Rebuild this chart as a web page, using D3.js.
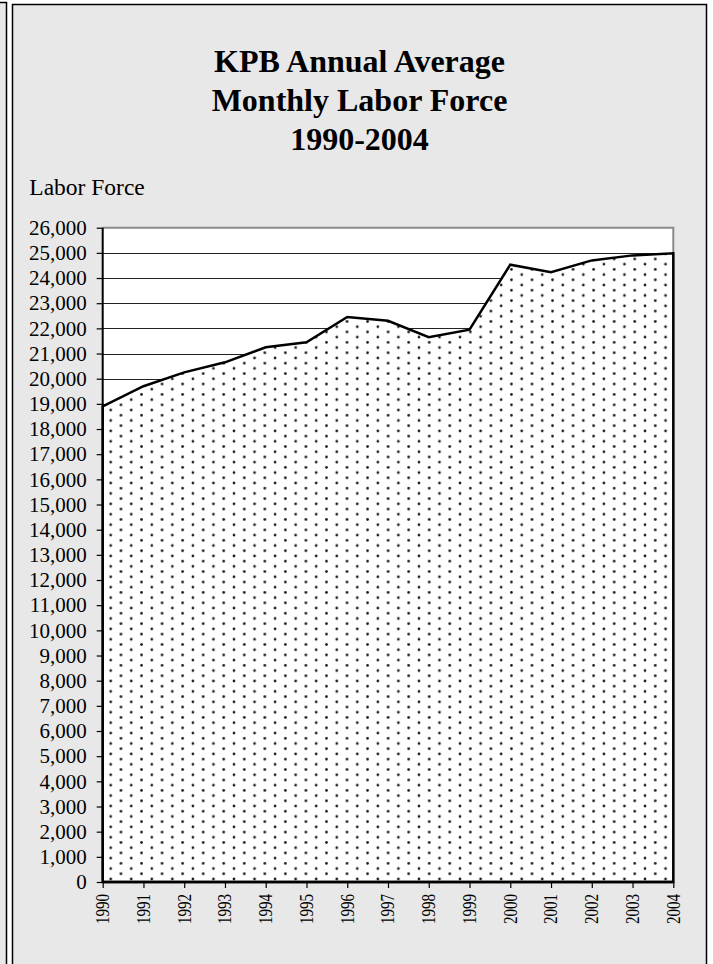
<!DOCTYPE html>
<html>
<head>
<meta charset="utf-8">
<script src="https://cdn.jsdelivr.net/npm/d3@7"></script>
<style>
  html, body { margin: 0; padding: 0; background: #ffffff; }
  svg { display: block; }
</style>
</head>
<body>
<svg id="chart" width="713" height="964"></svg>
<script>
const years = [1990,1991,1992,1993,1994,1995,1996,1997,1998,1999,2000,2001,2002,2003,2004];
const laborForce = [18900,19700,20250,20650,21250,21450,22450,22300,21650,21950,24530,24230,24700,24900,24980];
const yTicks = d3.range(0, 26001, 1000);
const titleLines = ["KPB Annual Average", "Monthly Labor Force", "1990-2004"];
const yLabel = "Labor Force";

const svg = d3.select("#chart");
const serif = "Liberation Serif, Times New Roman, serif";

// side panel (left, mostly clipped)
svg.append("rect").attr("x", -20).attr("y", 2.5).attr("width", 26.5).attr("height", 1000)
  .attr("fill", "#e8e8e8").attr("stroke", "#000").attr("stroke-width", 1.5);
// main panel
svg.append("rect").attr("x", 12.5).attr("y", 4.5).attr("width", 694).attr("height", 1000)
  .attr("fill", "#e8e8e8").attr("stroke", "#000").attr("stroke-width", 1.5);

const L = 102.7, R = 673.3, T = 227.7, B = 882;
const x = d3.scaleLinear().domain([years[0], years[years.length-1]]).range([L, R]);
const y = d3.scaleLinear().domain([0, 26000]).range([B, T]);

// dot pattern
const defs = svg.append("defs");
const pw = 20.55, ph = 10.42;
const pat = defs.append("pattern").attr("id", "dots").attr("patternUnits", "userSpaceOnUse")
  .attr("x", 110.7).attr("y", 879).attr("width", pw).attr("height", ph);
pat.append("rect").attr("width", pw).attr("height", ph).attr("fill", "#fff");
[[0,0],[pw,0],[0,ph],[pw,ph],[pw/2,ph/2]].forEach(([cx, cy]) => {
  pat.append("circle").attr("cx", cx).attr("cy", cy).attr("r", 1.35).attr("fill", "#1a1a1a");
});

// plot area background
svg.append("rect").attr("x", L).attr("y", T).attr("width", R - L).attr("height", B - T).attr("fill", "#fff");

// gridlines
svg.append("g").selectAll("line").data(yTicks.filter(d => d > 0 && d < 26000)).join("line")
  .attr("x1", L).attr("x2", R).attr("y1", d => Math.round(y(d)) + 0.5).attr("y2", d => Math.round(y(d)) + 0.5)
  .attr("stroke", "#222").attr("stroke-width", 1);

// plot border (top/right gray)
svg.append("path").attr("d", `M${L},${T}H${R}V${B}`).attr("fill", "none")
  .attr("stroke", "#8a8a8a").attr("stroke-width", 2);

// area
const data = years.map((yr, i) => ({ yr, v: laborForce[i] }));
const area = d3.area().x(d => x(d.yr)).y0(y(0)).y1(d => y(d.v));
svg.append("path").datum(data).attr("d", area).attr("fill", "url(#dots)")
  .attr("stroke", "#000").attr("stroke-width", 2.5).attr("stroke-linejoin", "miter");

// y axis
const yAxis = svg.append("g").attr("transform", `translate(${L},0)`)
  .call(d3.axisLeft(y).tickValues(yTicks).tickFormat(d3.format(",")).tickSize(6).tickPadding(10));
yAxis.attr("font-family", serif).attr("font-size", 21);
yAxis.select(".domain").attr("stroke", "#000").attr("stroke-width", 2).attr("d", `M0,${T}V${B}`);
yAxis.selectAll(".tick line").attr("stroke", "#000").attr("stroke-width", 1.2);
yAxis.selectAll("text").style("font-family", serif).style("font-size", "21px").attr("fill", "#000");

// x axis
const xAxis = svg.append("g").attr("transform", `translate(0,${B})`)
  .call(d3.axisBottom(x).tickValues(years).tickFormat(d3.format("d")).tickSize(6));
xAxis.attr("font-family", serif).attr("font-size", 18);
xAxis.select(".domain").attr("stroke", "#000").attr("stroke-width", 2.5).attr("d", `M${L},0H${R}`);
xAxis.selectAll(".tick line").attr("stroke", "#000").attr("stroke-width", 1.2);
xAxis.selectAll("text")
  .style("font-family", serif).style("font-size", "18px").attr("fill", "#000")
  .attr("transform", "rotate(-90)").attr("text-anchor", "end")
  .attr("x", -12).attr("y", 0).attr("dy", "0.33em")
  .attr("textLength", 30).attr("lengthAdjust", "spacingAndGlyphs");

// title
svg.append("g").selectAll("text").data(titleLines).join("text")
  .attr("x", 359.5).attr("y", (d, i) => 71.7 + i * 39.2)
  .attr("text-anchor", "middle").style("font-family", serif).attr("font-weight", "bold")
  .style("font-size", "32px").attr("fill", "#000").text(d => d);

// y label
svg.append("text").attr("x", 29.3).attr("y", 195).style("font-family", serif)
  .style("font-size", "23.5px").attr("fill", "#000").text(yLabel);
</script>
</body>
</html>
